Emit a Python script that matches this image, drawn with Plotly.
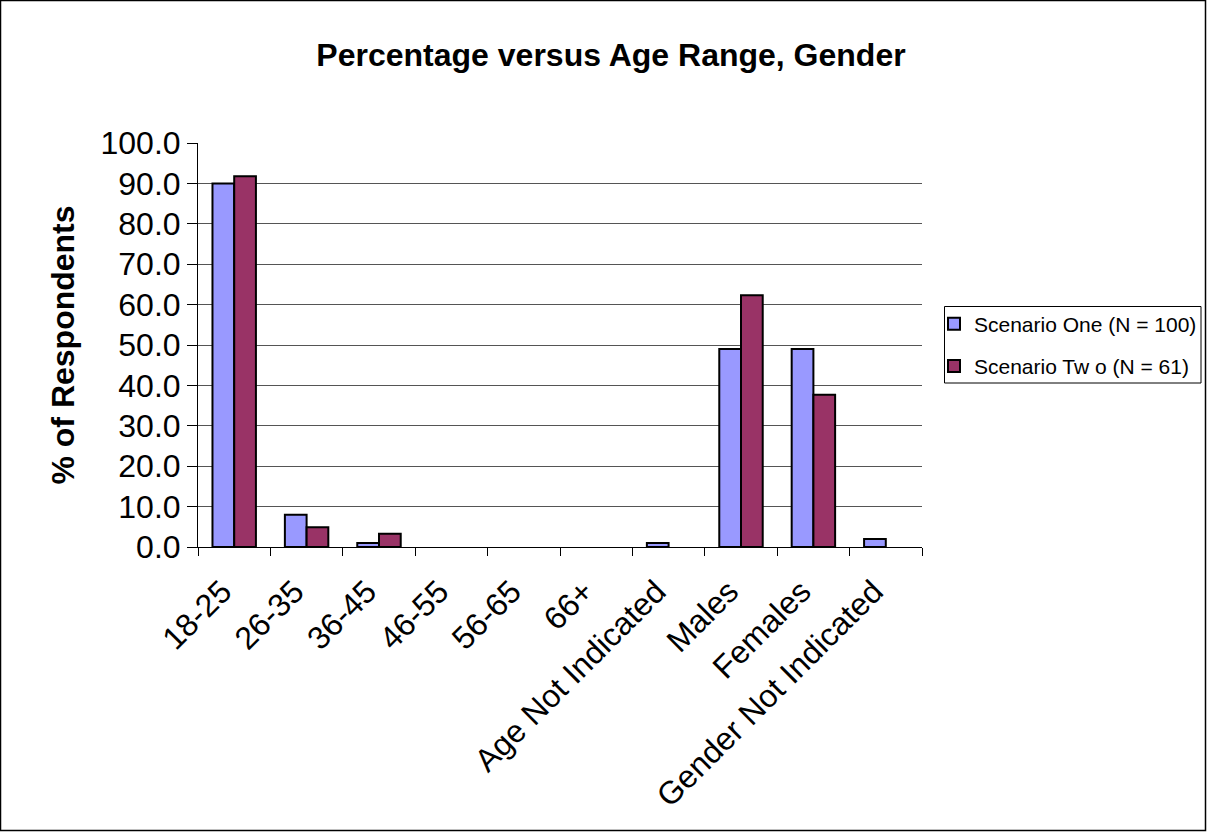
import plotly.graph_objects as go

categories = ["18-25", "26-35", "36-45", "46-55", "56-65", "66+",
              "Age Not Indicated", "Males", "Females", "Gender Not Indicated"]
scenario_one = [90.0, 8.0, 1.0, 0.0, 0.0, 0.0, 1.0, 49.0, 49.0, 2.0]
scenario_two = [91.8, 4.9, 3.3, 0.0, 0.0, 0.0, 0.0, 62.3, 37.7, 0.0]
y_ticks = [0, 10, 20, 30, 40, 50, 60, 70, 80, 90, 100]

W, H = 1207, 832
L, R, T, B = 198, 285, 143, 285
pw, ph = W - L - R, H - T - B

font_family = "Liberation Sans, Arial, sans-serif"


def px_x(x):
    return (x - L) / pw


def px_y(y):
    return (H - B - y) / ph


def outline_widths(values):
    # empty bars get no outline
    return [2 if v > 0 else 0 for v in values]


fig = go.Figure()
fig.add_trace(go.Bar(
    x=categories, y=scenario_one, name="Scenario One (N = 100)",
    legendgroup="one",
    marker=dict(color="#9999FF",
                line=dict(color="black", width=outline_widths(scenario_one))),
))
fig.add_trace(go.Bar(
    x=categories, y=scenario_two, name="Scenario Tw o (N = 61)",
    legendgroup="two",
    marker=dict(color="#993366",
                line=dict(color="black", width=outline_widths(scenario_two))),
))

fig.update_layout(
    width=W, height=H,
    margin=dict(l=L, r=R, t=T, b=B, autoexpand=False),
    paper_bgcolor="white", plot_bgcolor="white",
    barmode="group", bargap=0.4, bargroupgap=0,
    font=dict(family=font_family, color="black"),
    title=dict(
        text="<b>Percentage versus Age Range, Gender</b>",
        xref="container", x=611 / W, xanchor="center",
        yref="container", y=1 - 55 / H, yanchor="middle",
        font=dict(size=32, family=font_family),
    ),
    legend=dict(
        xref="container", x=934 / W, xanchor="left",
        yref="container", y=1 - 345 / H, yanchor="middle",
        borderwidth=0, bgcolor="rgba(0,0,0,0)",
        font=dict(size=21, family=font_family),
        traceorder="grouped", tracegroupgap=12, itemwidth=30,
    ),
    showlegend=True,
)

# Legend frame
fig.add_shape(type="rect", xref="paper", yref="paper",
              x0=px_x(944.5), x1=px_x(1201), y0=px_y(383), y1=px_y(306.5),
              line=dict(color="black", width=1), fillcolor="rgba(0,0,0,0)",
              layer="above")

fig.update_xaxes(
    type="category", tickangle=-45, automargin=False,
    tickfont=dict(size=32, family=font_family),
    ticklabelstandoff=12, ticklabelshift=-12,
    showline=True, linecolor="black", linewidth=1,
    ticks="outside", ticklen=8, tickcolor="black", tickson="boundaries",
    showgrid=False,
)
fig.update_yaxes(
    range=[0, 100], tickvals=y_ticks, automargin=False,
    ticktext=[f"{v:.1f}" for v in y_ticks],
    tickfont=dict(size=32, family=font_family),
    showline=True, linecolor="black", linewidth=1,
    ticks="outside", ticklen=10, tickcolor="black",
    showgrid=True, gridcolor="#555555", gridwidth=1,
    zeroline=False,
    title=dict(text="<b>% of Respondents</b>", font=dict(size=32, family=font_family),
               standoff=16),
)

# Outer frame around the whole chart
fig.add_shape(type="rect", xref="paper", yref="paper",
              x0=px_x(0.5), x1=px_x(W - 1.5),
              y0=px_y(H - 1.5), y1=px_y(0.5),
              line=dict(color="black", width=1.5), fillcolor="rgba(0,0,0,0)",
              layer="above")

fig.write_html("out.html")
